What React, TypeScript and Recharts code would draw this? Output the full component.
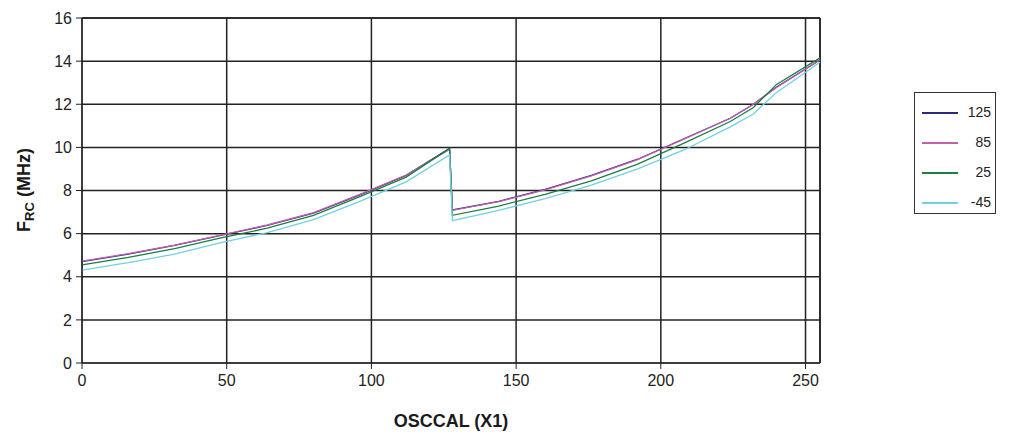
import React from 'react';
import { LineChart, Line, XAxis, YAxis, CartesianGrid, ReferenceLine } from 'recharts';

const osccal = [0, 16, 32, 48, 64, 80, 96, 112, 127, 128, 144, 160, 176, 192, 208, 224, 232, 240, 255];
const t125 = [4.7, 5.05, 5.45, 5.92, 6.38, 6.95, 7.8, 8.7, 9.95, 7.1, 7.5, 8.05, 8.7, 9.45, 10.4, 11.35, 12.0, 12.8, 14.05];
const t85 = [4.72, 5.07, 5.47, 5.93, 6.4, 6.97, 7.82, 8.72, 9.9, 7.08, 7.48, 8.03, 8.68, 9.43, 10.38, 11.35, 12.0, 12.78, 14.05];
const t25 = [4.55, 4.9, 5.3, 5.8, 6.25, 6.85, 7.72, 8.62, 9.95, 6.85, 7.28, 7.82, 8.45, 9.22, 10.2, 11.2, 11.85, 12.92, 14.15];
const tm45 = [4.31, 4.65, 5.05, 5.58, 6.05, 6.65, 7.5, 8.4, 9.65, 6.6, 7.08, 7.62, 8.25, 9.0, 9.88, 10.95, 11.55, 12.55, 13.95];

const xTicks = [0, 50, 100, 150, 200, 250];
const yTicks = [0, 2, 4, 6, 8, 10, 12, 14, 16];

const series = [
  { key: 't125', name: '125', color: '#2a2a78' },
  { key: 't85', name: '85', color: '#c25fb2' },
  { key: 't25', name: '25', color: '#1b7f3f' },
  { key: 'tm45', name: '-45', color: '#74cfe0' },
];

const data = osccal.map((x, i) => ({
  x,
  t125: t125[i],
  t85: t85[i],
  t25: t25[i],
  tm45: tm45[i],
}));

const FONT = '"Liberation Sans", Arial, sans-serif';

function YLabel() {
  return (
    <text
      transform="translate(22, 182) rotate(-90)"
      textAnchor="middle"
      fontFamily={FONT}
      fontWeight="bold"
      fontSize={18}
      fill="#1a1a1a"
    >
      F
      <tspan fontSize={13} dy={4}>RC</tspan>
      <tspan dy={-4}> (MHz)</tspan>
    </text>
  );
}

export default function App() {
  return (
    <div style={{ position: 'relative', width: 1004, height: 425 }}>
      <LineChart
        width={1004}
        height={425}
        data={data}
        margin={{ top: 10, right: 192, bottom: 0, left: 0 }}
      >
        <CartesianGrid stroke="#222" strokeWidth={1.5} />
        <XAxis
          dataKey="x"
          type="number"
          domain={[0, 255]}
          ticks={xTicks}
          height={70}
          tickSize={6}
          stroke="#222"
          tick={{ fill: '#222', fontSize: 16, fontFamily: FONT }}
          tickMargin={6}
          label={{
            value: 'OSCCAL (X1)',
            position: 'insideBottom',
            offset: 6,
            style: { fontFamily: FONT, fontWeight: 'bold', fontSize: 18, fill: '#1a1a1a' },
          }}
        />
        <YAxis
          type="number"
          domain={[0, 16]}
          ticks={yTicks}
          width={74}
          tickSize={6}
          stroke="#222"
          tick={{ fill: '#222', fontSize: 16, fontFamily: FONT }}
          tickMargin={4}
          label={<YLabel />}
        />
        <ReferenceLine x={255} stroke="#222" strokeWidth={1.5} />
        <ReferenceLine y={16} stroke="#222" strokeWidth={1.5} />
        {series.map((s) => (
          <Line
            key={s.key}
            dataKey={s.key}
            name={s.name}
            stroke={s.color}
            strokeWidth={1.3}
            dot={false}
            type="linear"
            isAnimationActive={false}
          />
        ))}
      </LineChart>
      <div
        style={{
          position: 'absolute',
          left: 906,
          top: 84,
          width: 82,
          height: 122,
          border: '1px solid #333',
          boxSizing: 'border-box',
          fontFamily: FONT,
          fontSize: 14,
          color: '#222',
        }}
      >
        {series.map((s, i) => (
          <div
            key={s.key}
            style={{ position: 'absolute', left: 6, top: 11 + i * 30, width: 70, height: 16 }}
          >
            <div
              style={{
                position: 'absolute',
                left: 1,
                top: 8,
                width: 36,
                height: 0,
                borderTop: `2px solid ${s.color}`,
              }}
            />
            <div style={{ position: 'absolute', right: 0, top: 0, lineHeight: '16px' }}>{s.name}</div>
          </div>
        ))}
      </div>
    </div>
  );
}
